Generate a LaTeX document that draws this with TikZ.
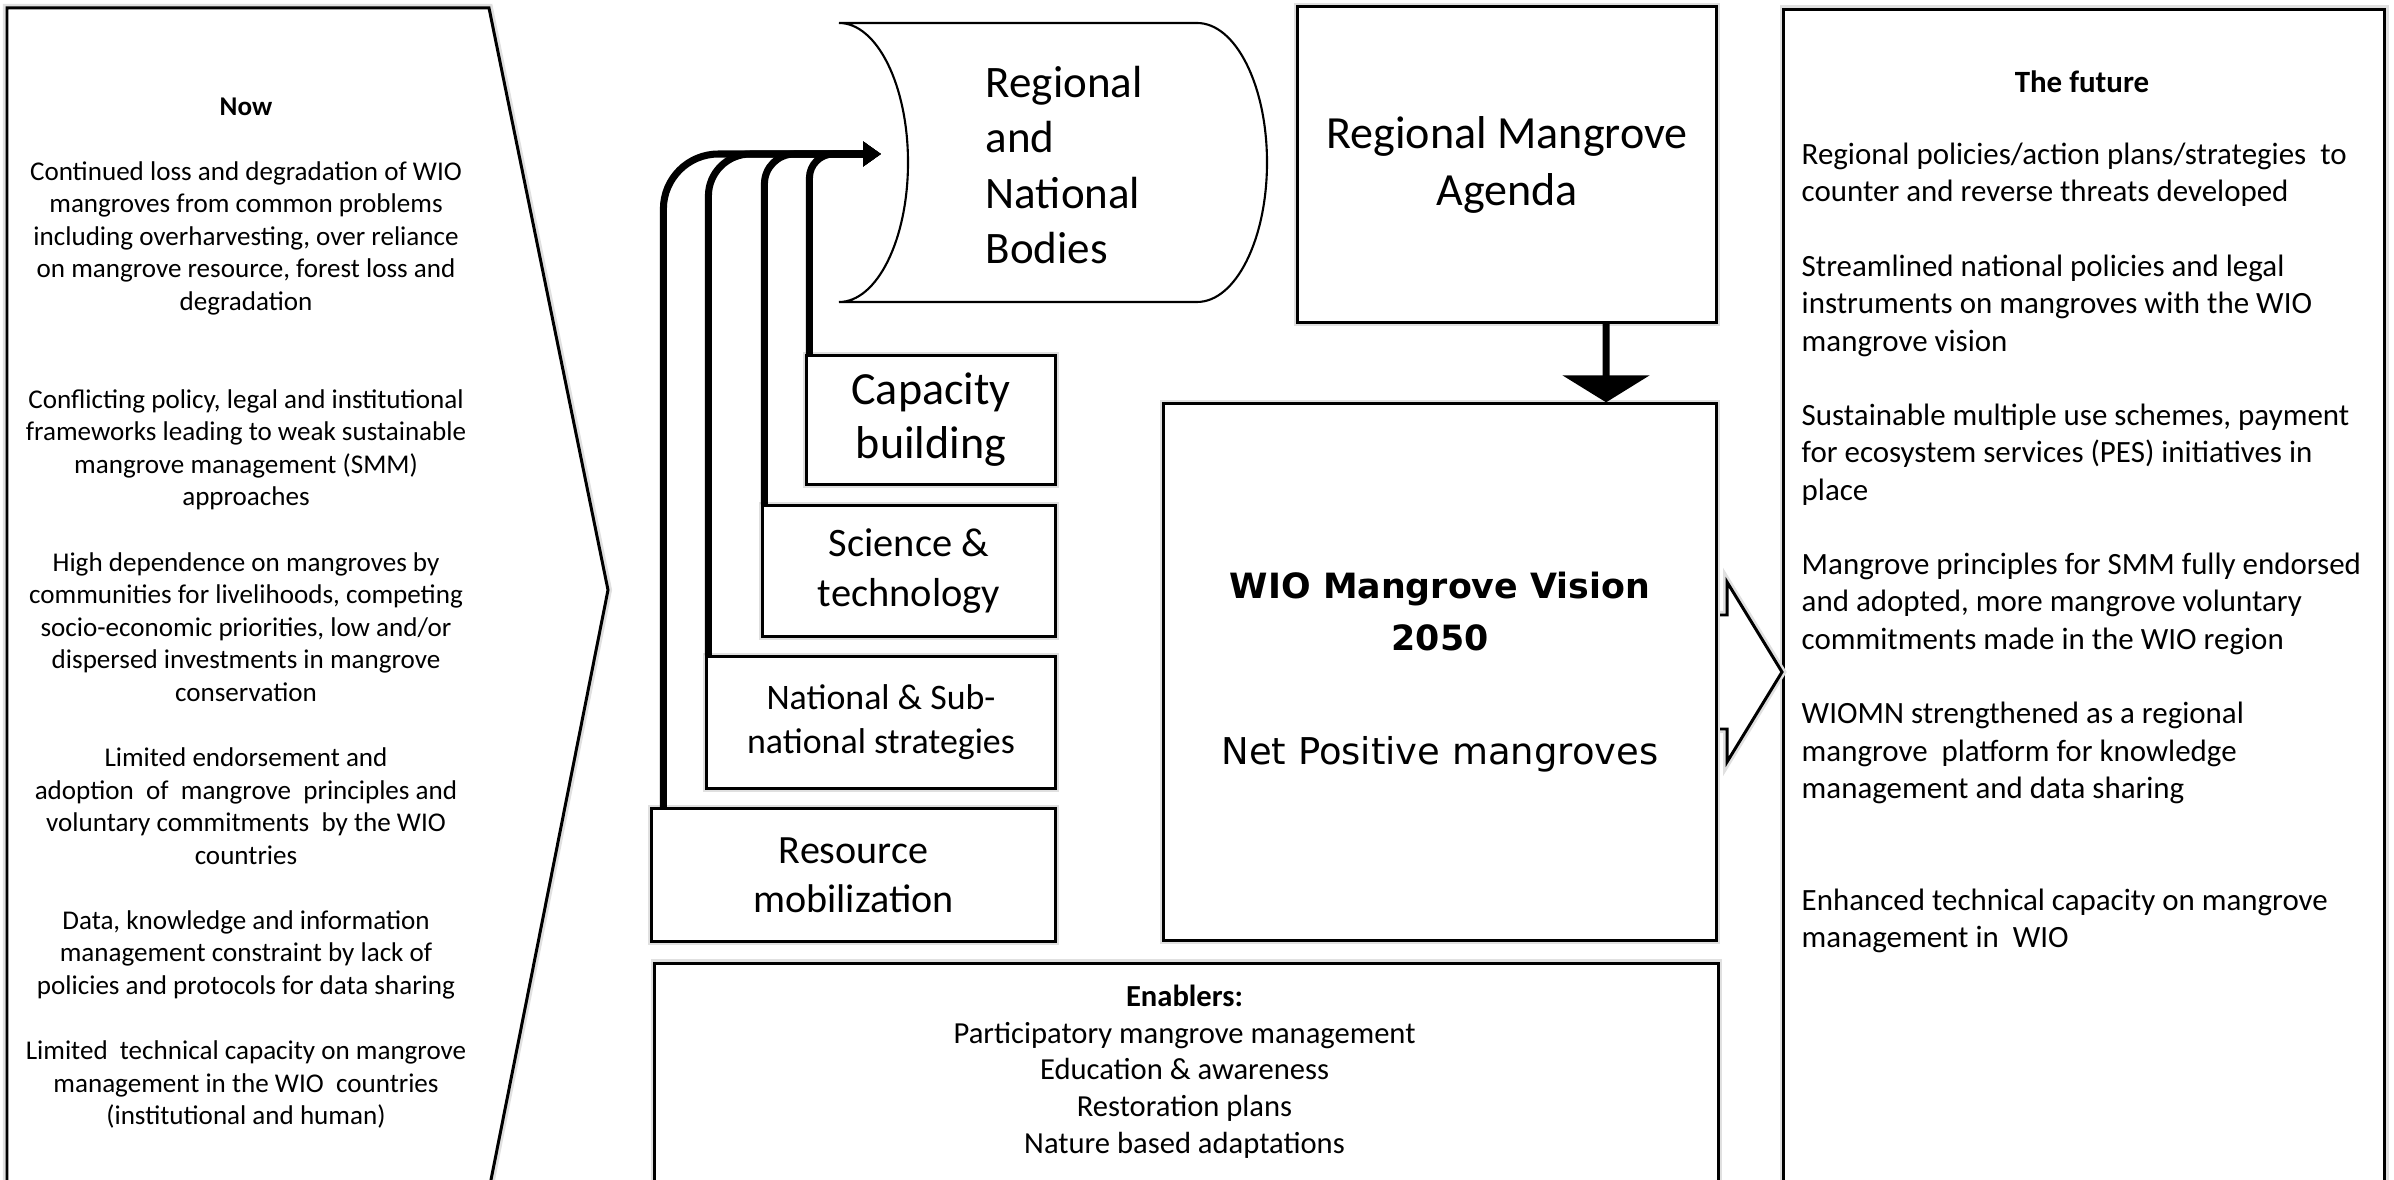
\documentclass[tikz,border=0pt]{standalone}
\usepackage{fontspec}
\setmainfont{Carlito}
\newfontfamily\verdanafont{DejaVu Sans}
\usetikzlibrary{arrows.meta,positioning}

\begin{document}
\begin{tikzpicture}[
    x=0.01cm, y=-0.01cm,
    glow/.style={preaction={draw=black!12, line width=0.08cm}},
    box/.style={rectangle, draw=black, line width=0.85pt, fill=white, glow, align=center, inner sep=0pt},
    bus/.style={line width=2pt, -{Triangle[length=0.18cm, width=0.24cm]}},
    txt/.style={inner sep=0pt, align=center},
]

\useasboundingbox (0,0) rectangle (2394,1180);
\clip (0,0) rectangle (2394,1180);
\fill[white] (0,0) rectangle (2394,1180);

% Now (left panel)
\draw[line width=0.85pt, fill=white, glow] (7,1200) -- (7,8) -- (489,8) -- (608,590) -- (487,1200);
\node[txt, font=\fontsize{7.7pt}{9.26pt}\selectfont] (now) at (246,613) {\textbf{Now}\\[9.26pt]
    Continued loss and degradation of WIO\\
    mangroves from common problems\\
    including overharvesting, over reliance\\
    on mangrove resource, forest loss and\\
    degradation\\[18.52pt]
    Conflicting policy, legal and institutional\\
    frameworks leading to weak sustainable\\
    mangrove management (SMM)\\
    approaches\\[9.26pt]
    High dependence on mangroves by\\
    communities for livelihoods, competing\\
    socio-economic priorities, low and/or\\
    dispersed investments in mangrove\\
    conservation\\[9.26pt]
    Limited endorsement and\\
    adoption\ \ of\ \ mangrove\ \ principles and\\
    voluntary commitments\ \ by the WIO\\
    countries\\[9.26pt]
    Data, knowledge and information\\
    management constraint by lack of\\
    policies and protocols for data sharing\\[9.26pt]
    Limited\ \ technical capacity on mangrove\\
    management in the WIO\ \ countries\\
    (institutional and human)};

% The future (right panel)
\node[box, anchor=north west, minimum width=6.01cm, minimum height=12.5cm] (future) at (1782,8) {};
\node[txt, font=\fontsize{8.8pt}{10.6pt}\selectfont\bfseries] (futuretitle) at (2082,82) {The future};
\node[txt, align=left, anchor=west, font=\fontsize{8.8pt}{10.6pt}\selectfont] (futuretext) at (1801,548) {%
    Regional policies/action plans/strategies\ \ to\\
    counter and reverse threats developed\\[10.6pt]
    Streamlined national policies and legal\\
    instruments on mangroves with the WIO\\
    mangrove vision\\[10.6pt]
    Sustainable multiple use schemes, payment\\
    for ecosystem services (PES) initiatives in\\
    place\\[10.6pt]
    Mangrove principles for SMM fully endorsed\\
    and adopted, more mangrove voluntary\\
    commitments made in the WIO region\\[10.6pt]
    WIOMN strengthened as a regional\\
    mangrove\ \ platform for knowledge\\
    management and data sharing\\[21.2pt]
    Enhanced technical capacity on mangrove\\
    management in\ \ WIO};

% Regional and National Bodies (stored data shape)
\draw[line width=0.6pt, fill=white] (839,23) -- (1197,23)
    .. controls (1235.7,23) and (1267,85.5) .. (1267,162.5)
    .. controls (1267,239.5) and (1235.7,302) .. (1197,302) -- (839,302)
    .. controls (877.1,302) and (908,239.5) .. (908,162.5)
    .. controls (908,85.5) and (877.1,23) .. (839,23) -- cycle;
\node[txt, align=left, anchor=west, font=\fontsize{12.8pt}{15.7pt}\selectfont] (bodies) at (985,165) {Regional\\and\\National\\Bodies};
\coordinate (bodiesin) at (881,154);

% Pillars
\node[box, minimum width=2.48cm, minimum height=1.28cm, font=\fontsize{13.1pt}{15.4pt}\selectfont] (capacity) at (931,420) {Capacity\\building};
\node[box, minimum width=2.92cm, minimum height=1.30cm, font=\fontsize{11.5pt}{14.2pt}\selectfont] (science) at (909,571) {Science \&\\technology};
\node[box, minimum width=3.48cm, minimum height=1.31cm, font=\fontsize{10.2pt}{12.5pt}\selectfont] (national) at (881,722.5) {National \& Sub-\\national strategies};
\node[box, minimum width=4.03cm, minimum height=1.32cm, font=\fontsize{11.4pt}{13.9pt}\selectfont] (resource) at (853.5,875) {Resource\\mobilization};

\draw[bus, rounded corners=0.55cm] ([xshift=0.13cm]resource.north west) |- (bodiesin);
\draw[bus, rounded corners=0.42cm] ([xshift=0.03cm]national.north west) |- (bodiesin);
\draw[bus, rounded corners=0.30cm] ([xshift=0.03cm]science.north west) |- (bodiesin);
\draw[bus, rounded corners=0.24cm] ([xshift=0.04cm]capacity.north west) |- (bodiesin);

% Agenda and vision
\node[box, minimum width=4.18cm, minimum height=3.15cm, font=\fontsize{13.1pt}{16.2pt}\selectfont] (agenda) at (1507,164.5) {Regional Mangrove\\Agenda};
\coordinate (visioneast) at (1716,672);
\draw[line width=0.85pt, fill=white, glow] (visioneast) ++(0,-57) -- ++(11,0) -- ++(0,-33)
    -- (future.west |- visioneast) -- ++(-55,90) -- ++(0,-33) -- ++(-11,0);
\node[box, minimum width=5.52cm, minimum height=5.36cm, font=\verdanafont\fontsize{9.9pt}{14.8pt}\selectfont] (vision) at (1440,672) {\textbf{WIO Mangrove Vision}\\\textbf{2050}\\[17.6pt]{\fontsize{10.5pt}{14.8pt}\selectfont Net Positive mangroves}};
\draw[line width=2pt, -{Triangle[length=0.27cm, width=0.86cm]}] ([xshift=-1.115cm]agenda.south east) -- ([xshift=-1.115cm]vision.north east);

% Enablers
\node[box, anchor=north west, minimum width=10.63cm, minimum height=3cm] (enablers) at (653,962) {};
\node[txt, font=\fontsize{8.7pt}{10.44pt}\selectfont] (enablerstext) at (1184.5,1071.5) {\textbf{Enablers:}\\Participatory mangrove management\\Education \& awareness\\Restoration plans\\Nature based adaptations};

\end{tikzpicture}
\end{document}
